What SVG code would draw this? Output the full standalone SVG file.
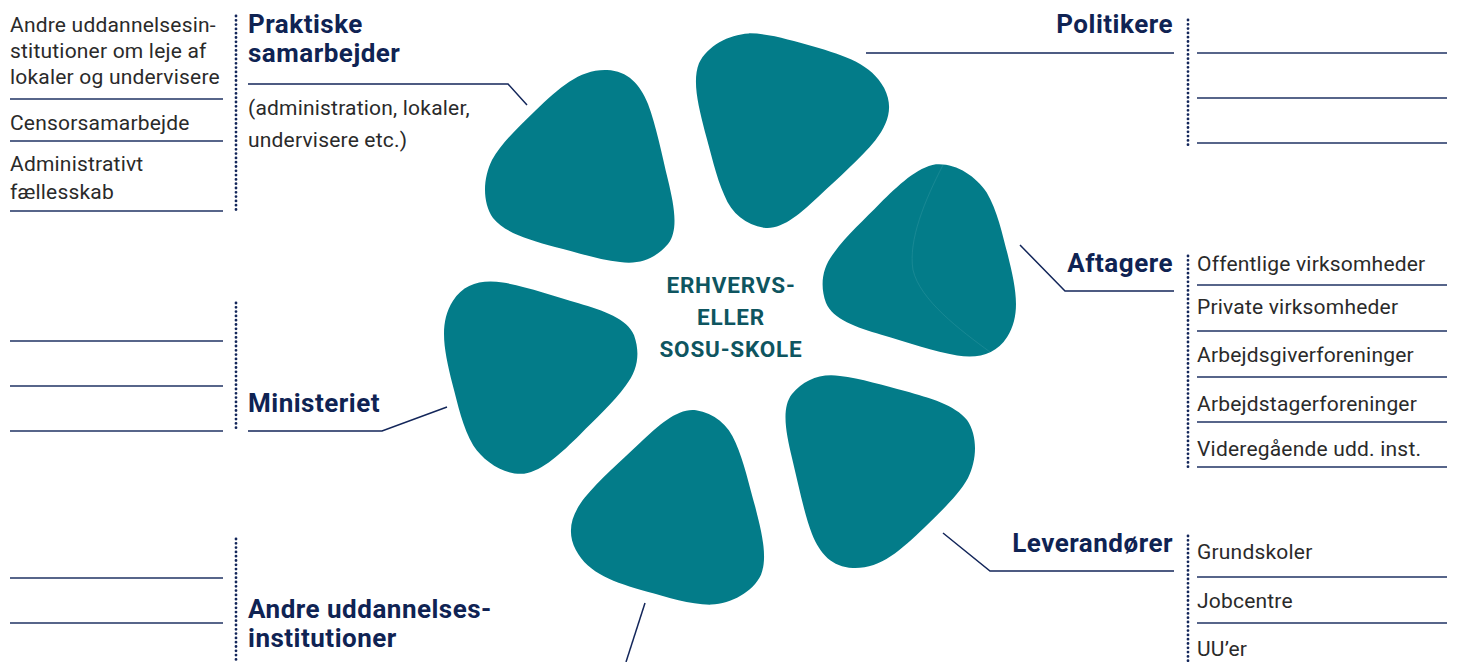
<svg xmlns="http://www.w3.org/2000/svg" width="1459" height="662" viewBox="0 0 1459 662">
  <style>
    .petal { fill: #037c89; }
    .seam { fill: none; stroke: #2f95a0; stroke-width: 0.7; opacity: 0.7; }
    .head { font-family: Roboto, "Liberation Sans", sans-serif; font-weight: 700; font-size: 26px; fill: #0f2353; letter-spacing: 0.5px; }
    .body { font-family: Roboto, "Liberation Sans", sans-serif; font-size: 21px; fill: #2a2a2a; letter-spacing: 0.2px; }
    .core { font-family: Roboto, "Liberation Sans", sans-serif; font-weight: 700; font-size: 22.5px; fill: #0e5560; text-anchor: middle; letter-spacing: 0.8px; }
    .rule { stroke: #1f3263; stroke-width: 1.5; fill: none; }
    .link { stroke: #13265a; stroke-width: 1.5; fill: none; }
    .dots { stroke: #13265a; stroke-width: 2.8; stroke-linecap: round; stroke-dasharray: 0 4.3; fill: none; }
    .end { text-anchor: end; }
  </style>
  <defs>
    <!-- one rounded-triangle petal; the others are rotations about the hub -->
    <path id="petalShape" d="M607,70 C628,71 640,84 648,104 C656,125 662,155 668,180 C674,205 679,230 668,244 C656,258 640,265 620,262 C600,260 575,252 555,247 C530,240 505,233 493,218 C482,202 483,178 492,160 C502,142 520,126 535,111 C560,87 580,69 607,70 Z"/>
  </defs>

  <rect width="1459" height="662" fill="#ffffff"/>

  <!-- flower of six petals around the school -->
  <g id="petals">
    <use href="#petalShape" class="petal" transform="rotate(0 730 319)"/>
    <use href="#petalShape" class="petal" transform="rotate(60 730 319)"/>
    <use href="#petalShape" class="petal" transform="rotate(120 730 319)"/>
    <path class="seam" d="M943,165 C925,200 908,240 913,270 C920,300 960,330 990,352"/>
    <use href="#petalShape" class="petal" transform="rotate(180 730 319)"/>
    <use href="#petalShape" class="petal" transform="rotate(240 730 319)"/>
    <use href="#petalShape" class="petal" transform="rotate(300 730 319)"/>
  </g>

  <g id="school">
    <text class="core" x="731" y="293">ERHVERVS-</text>
    <text class="core" x="731" y="325">ELLER</text>
    <text class="core" x="731" y="357">SOSU-SKOLE</text>
  </g>

  <!-- leader lines from the labels to the petals -->
  <g id="connectors">
    <polyline class="link" points="248,84 508,84 527,105"/>
    <polyline class="link" points="866,53 1174,53"/>
    <polyline class="link" points="1174,291 1065,291 1020,245"/>
    <polyline class="link" points="1174,571 990,571 943,533"/>
    <polyline class="link" points="248,431 382,431 447,407"/>
    <line class="link" x1="645" y1="603" x2="626" y2="662"/>
  </g>

  <g id="praktiske">
    <text class="head" x="248" y="33">Praktiske</text>
    <text class="head" x="248" y="62">samarbejder</text>
    <text class="body" x="248" y="115">(administration, lokaler,</text>
    <text class="body" x="248" y="147">undervisere etc.)</text>
    <line class="dots" x1="236" y1="16" x2="236" y2="211"/>
    <text class="body" x="10" y="32">Andre uddannelsesin-</text>
    <text class="body" x="10" y="58">stitutioner om leje af</text>
    <text class="body" x="10" y="84">lokaler og undervisere</text>
    <line class="rule" x1="10" y1="99" x2="223" y2="99"/>
    <text class="body" x="10" y="130">Censorsamarbejde</text>
    <line class="rule" x1="10" y1="141" x2="223" y2="141"/>
    <text class="body" x="10" y="171">Administrativt</text>
    <text class="body" x="10" y="199">fællesskab</text>
    <line class="rule" x1="10" y1="211" x2="223" y2="211"/>
  </g>

  <g id="politikere">
    <text class="head end" x="1173" y="33">Politikere</text>
    <line class="dots" x1="1188" y1="20" x2="1188" y2="146"/>
    <line class="rule" x1="1197" y1="53" x2="1447" y2="53"/>
    <line class="rule" x1="1197" y1="98" x2="1447" y2="98"/>
    <line class="rule" x1="1197" y1="143" x2="1447" y2="143"/>
  </g>

  <g id="aftagere">
    <text class="head end" x="1173" y="272">Aftagere</text>
    <line class="dots" x1="1188" y1="256" x2="1188" y2="470"/>
    <text class="body" x="1197" y="271">Offentlige virksomheder</text>
    <line class="rule" x1="1197" y1="285" x2="1447" y2="285"/>
    <text class="body" x="1197" y="314">Private virksomheder</text>
    <line class="rule" x1="1197" y1="331" x2="1447" y2="331"/>
    <text class="body" x="1197" y="362">Arbejdsgiverforeninger</text>
    <line class="rule" x1="1197" y1="377" x2="1447" y2="377"/>
    <text class="body" x="1197" y="411">Arbejdstagerforeninger</text>
    <line class="rule" x1="1197" y1="422" x2="1447" y2="422"/>
    <text class="body" x="1197" y="456">Videregående udd. inst.</text>
    <line class="rule" x1="1197" y1="467" x2="1447" y2="467"/>
  </g>

  <g id="leverandoerer">
    <text class="head end" x="1173" y="552">Leverandører</text>
    <line class="dots" x1="1188" y1="536" x2="1188" y2="662"/>
    <text class="body" x="1197" y="559">Grundskoler</text>
    <line class="rule" x1="1197" y1="577" x2="1447" y2="577"/>
    <text class="body" x="1197" y="608">Jobcentre</text>
    <line class="rule" x1="1197" y1="623" x2="1447" y2="623"/>
    <text class="body" x="1197" y="656">UU’er</text>
  </g>

  <g id="ministeriet">
    <text class="head" x="248" y="412">Ministeriet</text>
    <line class="dots" x1="236" y1="303" x2="236" y2="432"/>
    <line class="rule" x1="10" y1="341" x2="223" y2="341"/>
    <line class="rule" x1="10" y1="386" x2="223" y2="386"/>
    <line class="rule" x1="10" y1="431" x2="223" y2="431"/>
  </g>

  <g id="andre-uddannelsesinstitutioner">
    <text class="head" x="248" y="618">Andre uddannelses-</text>
    <text class="head" x="248" y="647">institutioner</text>
    <line class="dots" x1="236" y1="539" x2="236" y2="662"/>
    <line class="rule" x1="10" y1="578" x2="223" y2="578"/>
    <line class="rule" x1="10" y1="623" x2="223" y2="623"/>
  </g>
</svg>
